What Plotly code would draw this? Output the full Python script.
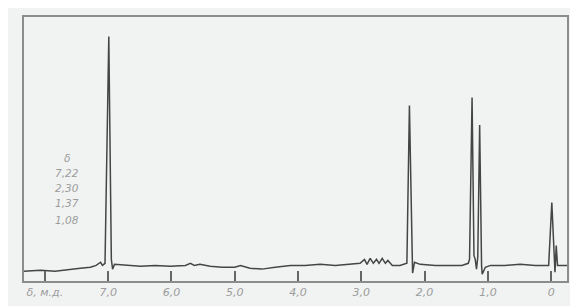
import plotly.graph_objects as go

# spectrum trace: chemical shift (ppm) and intensity (% of frame height)
ppm = [8.33, 8.07, 7.84, 7.60, 7.44, 7.28, 7.19, 7.12, 7.09, 7.05,
       6.99, 6.95, 6.93, 6.90, 6.73, 6.49, 6.26, 6.02, 5.78, 5.70,
       5.64, 5.55, 5.39, 5.20, 5.00, 4.91, 4.76, 4.57, 4.36, 4.12,
       3.89, 3.65, 3.41, 3.18, 3.02, 2.95, 2.91, 2.86, 2.81, 2.76,
       2.72, 2.67, 2.62, 2.58, 2.51, 2.39, 2.31, 2.28, 2.24, 2.20,
       2.19, 2.16, 2.07, 1.83, 1.60, 1.41, 1.31, 1.29, 1.25, 1.22,
       1.20, 1.18, 1.16, 1.13, 1.10, 1.09, 1.04, 0.96, 0.73, 0.49,
       0.25, 0.09, 0.04, -0.01, -0.05, -0.06, -0.08, -0.10, -0.14, -0.25]
intensity = [3.7, 4.1, 3.7, 4.5, 4.8, 5.2, 5.9, 7.1, 5.9, 6.7,
             92.6, 8.2, 4.5, 6.3, 5.9, 5.6, 5.9, 5.6, 5.9, 6.7,
             5.9, 6.3, 5.6, 5.2, 5.2, 5.9, 4.8, 4.5, 5.2, 5.9,
             5.9, 6.3, 5.9, 6.3, 6.7, 8.2, 6.3, 8.6, 6.7, 8.2,
             6.7, 8.6, 6.7, 7.8, 5.9, 5.9, 6.3, 6.7, 66.5, 5.2,
             3.0, 7.1, 6.3, 5.9, 5.9, 5.9, 6.7, 8.2, 69.5, 9.7,
             8.2, 4.5, 9.0, 59.1, 5.9, 2.6, 5.2, 5.9, 5.9, 6.3,
             5.9, 5.9, 5.9, 29.7, 5.2, 3.3, 13.4, 5.9, 5.9, 5.9]

tick_vals = [8, 7, 6, 5, 4, 3, 2, 1, 0]
tick_text = ["δ, м.д.", "7,0", "6,0", "5,0", "4,0", "3,0", "2,0", "1,0", "0"]

peak_list = ["δ", "7,22", "2,30", "1,37", "1,08"]
peak_list_y = [0.465, 0.409, 0.351, 0.295, 0.232]

paper_col = "#f1f3f2"
text_col = "#9c9c9c"

fig = go.Figure()
fig.add_trace(go.Scatter(x=ppm, y=intensity, mode="lines",
                         line=dict(color="#454545", width=1.5),
                         hoverinfo="skip", showlegend=False))

for txt, yy in zip(peak_list, peak_list_y):
    fig.add_annotation(x=0.079, y=yy, xref="paper", yref="paper", text=txt,
                       showarrow=False, xanchor="center", yanchor="middle",
                       font=dict(family="DejaVu Sans", size=10.5, color=text_col, style="italic"))

# page body has an 8px default margin, so the figure is sized to fit inside the window
fig.update_layout(
    width=570, height=298,
    margin=dict(l=16, r=11, t=7, b=22),
    paper_bgcolor=paper_col, plot_bgcolor=paper_col,
    showlegend=False,
    xaxis=dict(range=[8.33, -0.25], tickvals=tick_vals, ticktext=tick_text,
               ticks="inside", ticklen=10, tickwidth=1.5, tickcolor="#666666",
               showline=True, mirror=True, linecolor="#8c8c8c", linewidth=1.5,
               showgrid=False, zeroline=False,
               tickfont=dict(family="DejaVu Sans", size=11, color=text_col, style="italic")),
    yaxis=dict(range=[0, 100], showticklabels=False, ticks="",
               showline=True, mirror=True, linecolor="#8c8c8c", linewidth=1.5,
               showgrid=False, zeroline=False),
)

fig.write_html("out.html")
